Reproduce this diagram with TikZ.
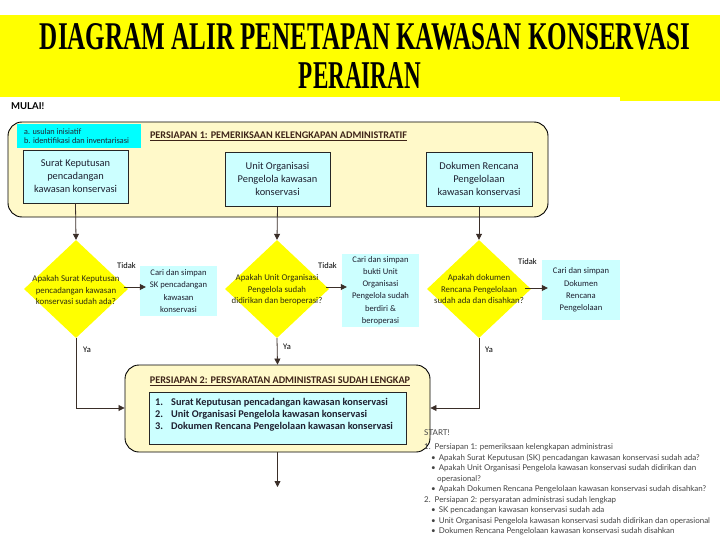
\documentclass[tikz,border=0pt]{standalone}
\usepackage{fontspec}
\setmainfont{Carlito}
\newfontfamily\titlefont{Liberation Serif}
\newfontfamily\listfont{Lato}
\usetikzlibrary{shapes.geometric,arrows.meta}
\definecolor{panel}{HTML}{FFF9C9}
\definecolor{lcyan}{HTML}{CCFFFF}
\definecolor{acyan}{HTML}{00FFFF}
\definecolor{dyel}{HTML}{FFFF00}
\definecolor{hdr}{HTML}{3E2418}
\definecolor{btxt}{HTML}{1E2030}
\definecolor{dtxt}{HTML}{2E2E10}
\definecolor{ltxt}{HTML}{444444}
\definecolor{conn}{HTML}{3A2E28}
\begin{document}
\begin{tikzpicture}[x=1pt,y=-1pt,
  panelbox/.style={draw=black,line width=0.9pt,fill=panel,rounded corners=14pt,inner sep=0pt},
  itembox/.style={draw=black!85,line width=0.9pt,fill=lcyan,inner sep=2pt,align=center,
     text=btxt,font=\fontsize{10.4}{13}\selectfont},
  findbox/.style={fill=lcyan,inner sep=2pt,align=center,text=btxt,font=\fontsize{8.6}{12.2}\selectfont},
  decision/.style={diamond,fill=dyel,inner sep=0pt,minimum width=104pt,minimum height=98pt},
  dtext/.style={align=center,text=dtxt,font=\fontsize{8.8}{11.6}\selectfont,inner sep=0pt},
  hdrtxt/.style={text=hdr,font=\fontsize{10.2}{11}\selectfont\bfseries,inner sep=0pt},
  lbl/.style={font=\fontsize{8.5}{9}\selectfont,inner sep=0pt,anchor=west},
  arr/.style={draw=conn,line width=0.8pt,-{Triangle[width=6pt,length=6pt]}},
  listtxt/.style={text=ltxt,font=\listfont\fontsize{7.95}{10.5}\selectfont,align=left,inner sep=0pt}
]
\useasboundingbox (0,0) rectangle (720,559);
\fill[white] (0,0) rectangle (720,559);
% title band
\fill[dyel] (0,15) rectangle (720,97);
\fill[dyel] (620,97) rectangle (720,101);
\node[inner sep=0pt] (title1) at (365,37) {\resizebox{650pt}{26pt}{\titlefont\bfseries DIAGRAM ALIR PENETAPAN KAWASAN KONSERVASI}};
\node[inner sep=0pt] (title2) at (360,76) {\resizebox{122pt}{26pt}{\titlefont\bfseries PERAIRAN}};
\node[inner sep=0pt,anchor=west,font=\listfont\bfseries\fontsize{9.5}{10}\selectfont] (mulai) at (11,106) {MULAI!};

% panel 1
\node[panelbox,minimum width=540pt,minimum height=95pt] (p1) at (278,169.5) {};
\node[fill=acyan,inner sep=0pt,minimum width=124pt,minimum height=24pt] (lab) at (79,136) {};
\node[anchor=west,inner sep=0pt,align=left,font=\listfont\fontsize{7.8}{8.6}\selectfont,text=btxt] (labt) at (24,136) {a. usulan inisiatif\\b. identifikasi dan inventarisasi};
\node[hdrtxt] (h1) at (278.5,136) {\underline{PERSIAPAN 1: PEMERIKSAAN KELENGKAPAN ADMINISTRATIF}};
\node[itembox,minimum width=105pt,minimum height=53pt] (b1) at (75.5,176.5) {Surat Keputusan\\pencadangan\\kawasan konservasi};
\node[itembox,minimum width=105pt,minimum height=54pt] (b2) at (277.5,179) {Unit Organisasi\\Pengelola kawasan\\konservasi};
\node[itembox,minimum width=106pt,minimum height=54pt] (b3) at (479,179) {Dokumen Rencana\\Pengelolaan\\kawasan konservasi};

% decisions
\node[decision] (d1) at (76,289) {};
\node[dtext] (d1t) at (76,290) {Apakah Surat Keputusan\\pencadangan kawasan\\konservasi sudah ada?};
\node[decision] (d2) at (277,289) {};
\node[dtext] (d2t) at (277,290) {Apakah Unit Organisasi\\Pengelola sudah\\didirikan dan beroperasi?};
\node[decision] (d3) at (479,289) {};
\node[dtext] (d3t) at (479,289) {Apakah dokumen\\Rencana Pengelolaan\\sudah ada dan disahkan?};

% find boxes
\node[findbox,minimum width=77pt,minimum height=50pt] (c1) at (178.5,291) {Cari dan simpan\\SK pencadangan\\kawasan\\konservasi};
\node[findbox,minimum width=77pt,minimum height=73pt] (c2) at (380.5,290.5) {Cari dan simpan\\bukti Unit\\Organisasi\\Pengelola sudah\\berdiri \&\\beroperasi};
\node[findbox,minimum width=78pt,minimum height=60pt] (c3) at (581,290) {Cari dan simpan\\Dokumen\\Rencana\\Pengelolaan};

% labels
\node[lbl] (t1) at (117,266) {Tidak};
\node[lbl] (t2) at (318,266) {Tidak};
\node[lbl] (t3) at (518,262) {Tidak};
\node[lbl] (y1) at (83,350) {Ya};
\node[lbl] (y2) at (283,347) {Ya};
\node[lbl] (y3) at (485,350) {Ya};

% panel 2
\node[panelbox,minimum width=305pt,minimum height=87pt] (p2) at (277.5,408.5) {};
\node[hdrtxt] (h2) at (280,381) {\underline{PERSIAPAN 2: PERSYARATAN ADMINISTRASI SUDAH LENGKAP}};
\node[draw=black!85,line width=0.9pt,fill=lcyan,minimum width=257pt,minimum height=52pt,inner sep=0pt] (ib) at (277.5,418) {};
\node[anchor=west,inner sep=0pt,text=btxt,font=\fontsize{10.3}{12}\selectfont\bfseries] (items) at (155,415)
  {\begin{tabular}{@{}l@{\hspace{8pt}}l@{}}
   1. & Surat Keputusan pencadangan kawasan konservasi\\
   2. & Unit Organisasi Pengelola kawasan konservasi\\
   3. & Dokumen Rencana Pengelolaan kawasan konservasi
   \end{tabular}};

% connectors
\draw[arr] (b1.south) -- (d1.north);
\draw[arr] (b2.south) -- (d2.north);
\draw[arr] (b3.south) -- (d3.north);
\draw[arr] ([xshift=-4pt,yshift=2pt]d1.east) -- ([xshift=6pt,yshift=2pt]d1.east -| c1.west);
\draw[arr] ([xshift=-3pt,yshift=2pt]d2.east) -- ([xshift=5pt,yshift=2pt]d2.east -| c2.west);
\draw[arr] ([xshift=-6pt,yshift=1pt]d3.east) -- ([xshift=6pt,yshift=1pt]d3.east -| c3.west);
\coordinate (k1) at (76,408);
\coordinate (k3) at (479,408);
\draw[arr] (d1.south) -- (k1) -- (k1 -| p2.west);
\draw[arr] (d3.south) -- (k3) -- (k3 -| p2.east);
\draw[arr] (d2.south) -- (p2.north);
\coordinate (endp) at (277.5,487);
\draw[arr] (p2.south) -- (endp);

% notes
\node[listtxt,anchor=north west] (notes) at (424,429) {{\fontsize{8}{9}\selectfont START!}\\[4pt]
1.\hspace{4pt}Persiapan 1: pemeriksaan kelengkapan administrasi\\
\hspace*{7pt}\textbullet\hspace{3pt}Apakah Surat Keputusan (SK) pencadangan kawasan konservasi sudah ada?\\
\hspace*{7pt}\textbullet\hspace{3pt}Apakah Unit Organisasi Pengelola kawasan konservasi sudah didirikan dan\\
\hspace*{13pt}operasional?\\
\hspace*{7pt}\textbullet\hspace{3pt}Apakah Dokumen Rencana Pengelolaan kawasan konservasi sudah disahkan?\\
2.\hspace{4pt}Persiapan 2: persyaratan administrasi sudah lengkap\\
\hspace*{7pt}\textbullet\hspace{3pt}SK pencadangan kawasan konservasi sudah ada\\
\hspace*{7pt}\textbullet\hspace{3pt}Unit Organisasi Pengelola kawasan konservasi sudah didirikan dan operasional\\
\hspace*{7pt}\textbullet\hspace{3pt}Dokumen Rencana Pengelolaan kawasan konservasi sudah disahkan};
\end{tikzpicture}
\end{document}
